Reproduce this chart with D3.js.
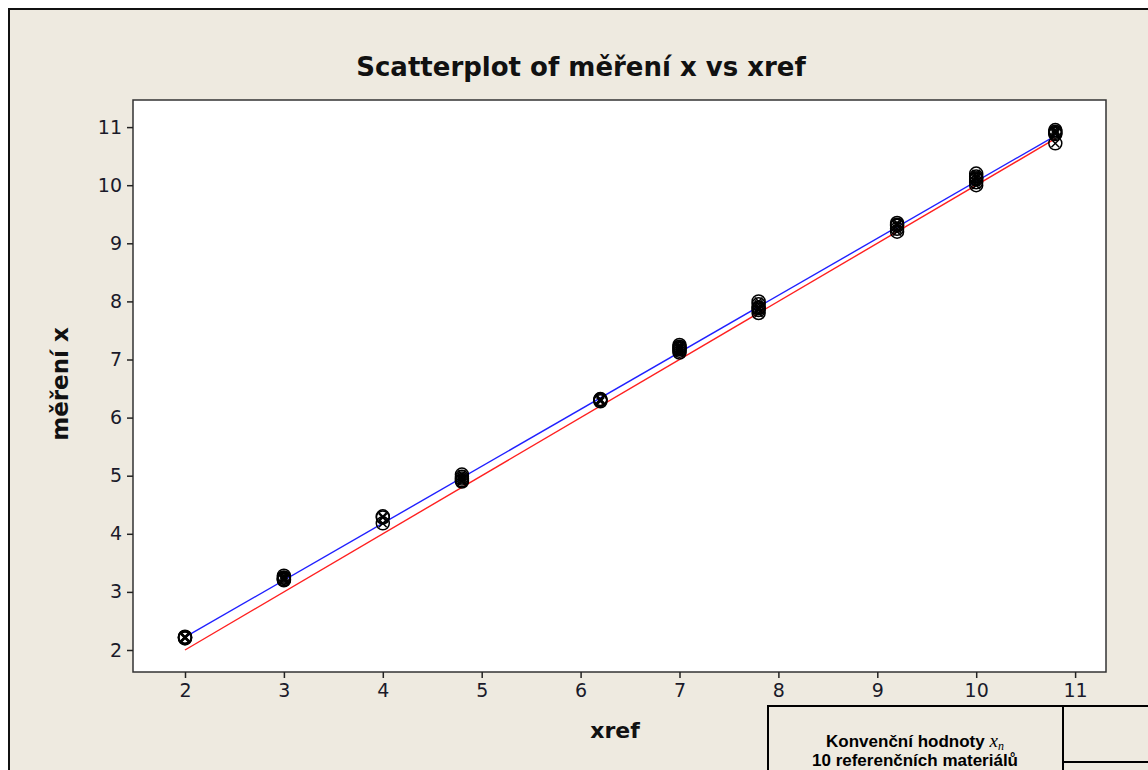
<!DOCTYPE html>
<html><head><meta charset="utf-8">
<script src="https://cdn.jsdelivr.net/npm/d3@7"></script>
<style>body{margin:0;background:#fff}svg{display:block}</style>
</head><body>
<svg id="c" width="1148" height="770"></svg>
<script>
// xref reference values and replicate measurements
const xrefGroups = [2, 3, 4, 4.8, 6.2, 7, 7.8, 9.2, 10, 10.8];
const measurements = [
  [2.20, 2.22, 2.21, 2.23, 2.22],
  [3.20, 3.22, 3.25, 3.28, 3.24, 3.21],
  [4.30, 4.28, 4.18],
  [5.02, 4.98, 4.95, 4.90, 4.92],
  [6.30, 6.32, 6.28, 6.31],
  [7.20, 7.22, 7.15, 7.18, 7.12, 7.25],
  [8.00, 7.95, 7.90, 7.85, 7.80, 7.88],
  [9.35, 9.30, 9.25, 9.20, 9.32],
  [10.20, 10.15, 10.10, 10.05, 10.00, 10.12],
  [10.92, 10.88, 10.95, 10.90, 10.72]
];
const fitLineX = [2, 10.8];
const fitLineY = [2.22, 10.85];
const idealLineX = [2, 10.8];
const idealLineY = [2, 10.8];
const xTicks = [2, 3, 4, 5, 6, 7, 8, 9, 10, 11];
const yTicks = [2, 3, 4, 5, 6, 7, 8, 9, 10, 11];

const svg = d3.select("#c");
const W = 1148, H = 770;
svg.append("rect").attr("x",0).attr("y",0).attr("width",W).attr("height",H).attr("fill","#fff");
svg.append("rect").attr("x",9).attr("y",9).attr("width",W+20).attr("height",H+20)
  .attr("fill","#EEEAE0").attr("stroke","#111").attr("stroke-width",2);

const L = 133, T = 100, R = 1106, B = 672;
const x = d3.scaleLinear().domain([2 - (185 - L) / 98.9, 2 + (R - 185) / 98.9]).range([L, R]);
const y = d3.scaleLinear().domain([2 - (B - 650) / 58.1, 2 + (650 - T) / 58.1]).range([B, T]);

svg.append("rect").attr("x",L).attr("y",T).attr("width",R-L).attr("height",B-T)
  .attr("fill","#fff").attr("stroke","#333").attr("stroke-width",1.5);

const tickFont = "Tahoma, 'DejaVu Sans', sans-serif";
const xAxis = svg.append("g").attr("transform",`translate(0,${B})`)
  .call(d3.axisBottom(x).tickValues(xTicks).tickSize(6).tickPadding(6).tickFormat(d3.format("d")));
const yAxis = svg.append("g").attr("transform",`translate(${L},0)`)
  .call(d3.axisLeft(y).tickValues(yTicks).tickSize(6).tickPadding(5).tickFormat(d3.format("d")));
[xAxis, yAxis].forEach(a => {
  a.select(".domain").remove();
  a.selectAll(".tick line").attr("stroke","#222").attr("stroke-width",1.5);
  a.selectAll(".tick text").attr("fill","#1a1a2a").style("font-family",tickFont).style("font-size","19px");
});

const line = d3.line().x(d => x(d[0])).y(d => y(d[1]));
svg.append("path").datum(d3.zip(idealLineX, idealLineY)).attr("d", line)
  .attr("fill","none").attr("stroke","#ff2020").attr("stroke-width",1.4);
svg.append("path").datum(d3.zip(fitLineX, fitLineY)).attr("d", line)
  .attr("fill","none").attr("stroke","#2020ff").attr("stroke-width",1.4);

const pts = [];
xrefGroups.forEach((xv, i) => measurements[i].forEach(m => pts.push([xv, m])));
const r = 6.5;
const g = svg.append("g");
pts.forEach(p => {
  const cx = x(p[0]), cy = y(p[1]);
  const k = r * 0.6;
  const pg = g.append("g").attr("stroke","#000").attr("stroke-width",1.5).attr("fill","none");
  pg.append("circle").attr("cx",cx).attr("cy",cy).attr("r",r);
  pg.append("path").attr("d",`M${cx-k},${cy-k}L${cx+k},${cy+k}M${cx-k},${cy+k}L${cx+k},${cy-k}`);
});

const lblFont = "Tahoma, 'DejaVu Sans', sans-serif";
svg.append("text").attr("x",581).attr("y",76).attr("text-anchor","middle")
  .style("font-family",lblFont).style("font-weight","bold").style("font-size","26px").attr("fill","#111")
  .text("Scatterplot of měření x vs xref");
svg.append("text").attr("x",615).attr("y",738).attr("text-anchor","middle")
  .style("font-family",lblFont).style("font-weight","bold").style("font-size","22px").attr("fill","#111")
  .text("xref");
svg.append("text").attr("transform","translate(68,384) rotate(-90)").attr("text-anchor","middle")
  .style("font-family",lblFont).style("font-weight","bold").style("font-size","23px").attr("fill","#111")
  .text("měření x");

const tb = svg.append("g").attr("stroke","#000").attr("stroke-width",2).attr("fill","none");
tb.append("rect").attr("x",768).attr("y",706).attr("width",295).attr("height",80).attr("fill","#EEEAE0");
tb.append("line").attr("x1",1063).attr("y1",706).attr("x2",1160).attr("y2",706);
tb.append("line").attr("x1",1063).attr("y1",762).attr("x2",1160).attr("y2",762);
const t1 = svg.append("text").attr("x",915).attr("y",747).attr("text-anchor","middle")
  .style("font-family","Arial, 'Liberation Sans', sans-serif").style("font-weight","bold").style("font-size","17px").attr("fill","#000");
t1.append("tspan").text("Konvenční hodnoty ");
t1.append("tspan").style("font-family","'Times New Roman','Liberation Serif',serif").style("font-style","italic").style("font-weight","normal").style("font-size","19px").text("x");
t1.append("tspan").style("font-family","'Times New Roman','Liberation Serif',serif").style("font-style","italic").style("font-weight","normal").style("font-size","12px").attr("dy",3).text("n");
svg.append("text").attr("x",915).attr("y",766).attr("text-anchor","middle")
  .style("font-family","Arial, 'Liberation Sans', sans-serif").style("font-weight","bold").style("font-size","17px").attr("fill","#000")
  .text("10 referenčních materiálů");
</script>
</body></html>
